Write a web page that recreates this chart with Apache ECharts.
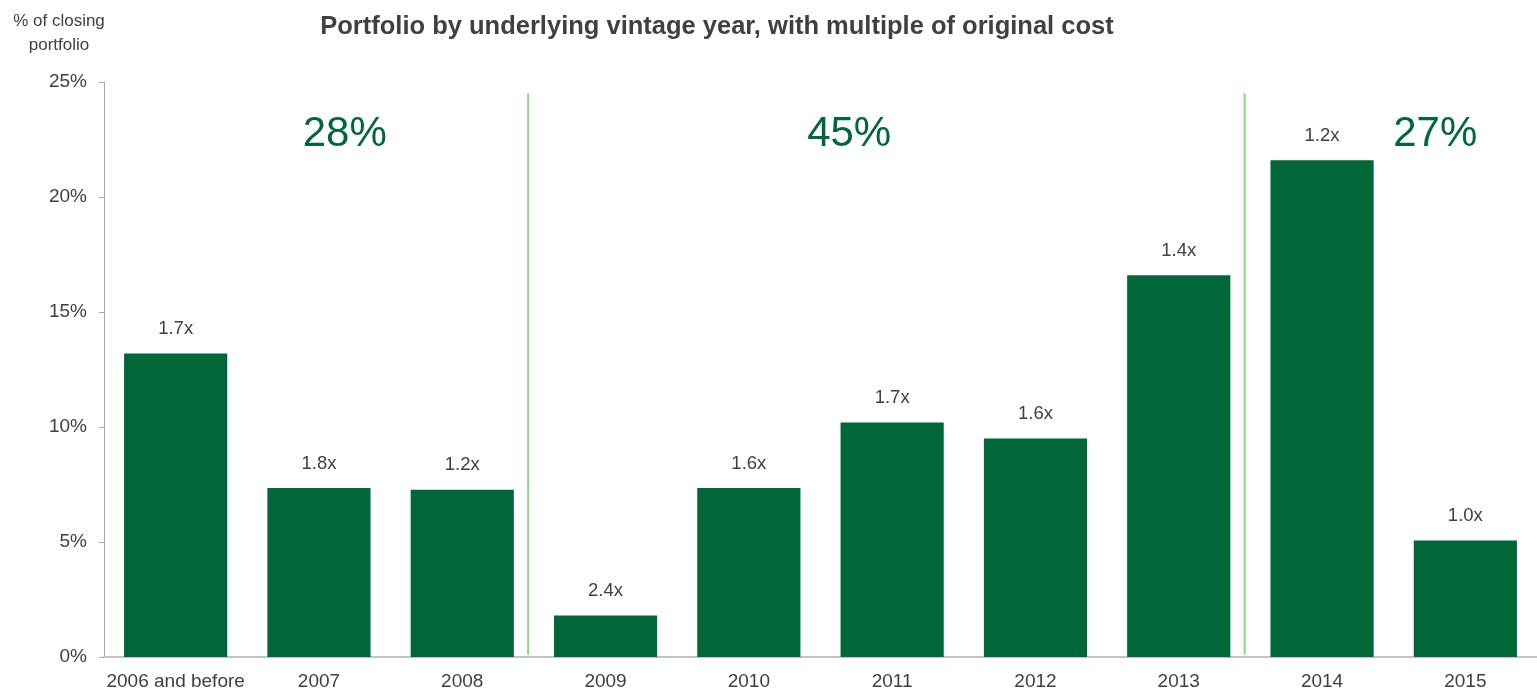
<!DOCTYPE html>
<html>
<head>
<meta charset="utf-8">
<script src="https://cdn.jsdelivr.net/npm/echarts@6/dist/echarts.min.js"></script>
<style>
html,body{margin:0;padding:0;background:#fff;}
#chart{width:1537px;height:691px;}
</style>
</head>
<body>
<div id="chart"></div>
<script>
const categories = ['2006 and before','2007','2008','2009','2010','2011','2012','2013','2014','2015'];
const shares = [13.2, 7.35, 7.27, 1.8, 7.35, 10.2, 9.5, 16.6, 21.6, 5.06];
const multiples = ['1.7x','1.8x','1.2x','2.4x','1.6x','1.7x','1.6x','1.4x','1.2x','1.0x'];
const yTicks = [0, 5, 10, 15, 20, 25];
const dividers = [2.96, 7.96];
const groupLabels = ['28%', '45%', '27%'];
const groupLabelX = [1.68, 5.2, 9.29];
const groupLabelY = 22.7;

const chart = echarts.init(document.getElementById('chart'));
const font = 'Liberation Sans, Arial, sans-serif';
const grey = '#404040';
const green = '#006838';

const series = [{
  type: 'bar',
  data: shares,
  barWidth: '72%',
  itemStyle: {color: green},
  label: {
    show: true, position: 'top', distance: 15,
    formatter: p => multiples[p.dataIndex],
    fontFamily: font, fontSize: 18.5, color: grey
  }
}];
dividers.forEach(d => {
  series.push({
    type: 'line', xAxisIndex: 1, yAxisIndex: 0,
    data: [[d, 0.1], [d, 24.5]],
    symbol: 'none', silent: true,
    lineStyle: {color: '#92d08a', width: 2}
  });
});
series.push({
  type: 'scatter', xAxisIndex: 1, yAxisIndex: 0,
  data: groupLabels.map((t, i) => [groupLabelX[i], groupLabelY]),
  symbolSize: 1, silent: true,
  itemStyle: {opacity: 1, color: 'rgba(0,0,0,0)'},
  label: {
    show: true, position: 'inside', opacity: 1,
    formatter: p => groupLabels[p.dataIndex],
    fontFamily: font, fontSize: 42, color: green
  }
});

chart.setOption({
  animation: false,
  backgroundColor: '#fff',
  title: [{
    text: 'Portfolio by underlying vintage year, with multiple of original cost',
    left: 712, top: 9, textAlign: 'center',
    textStyle: {fontFamily: font, fontSize: 25.5, fontWeight: 'bold', color: grey}
  }, {
    text: '% of closing\nportfolio',
    left: 54, top: 4, textAlign: 'center',
    textStyle: {fontFamily: font, fontSize: 17, fontWeight: 'normal', color: grey, lineHeight: 24}
  }],
  grid: {left: 104, right: -3, top: 82, bottom: 31},
  xAxis: [{
    type: 'category', data: categories,
    axisLine: {lineStyle: {color: '#bfc5c2', width: 2}},
    axisTick: {show: false},
    axisLabel: {fontFamily: font, fontSize: 19, color: grey, margin: 15, interval: 0}
  }, {
    type: 'value', min: 0, max: 10, show: false
  }],
  yAxis: [{
    type: 'value', min: 0, max: 25, interval: 5,
    axisLine: {show: true, lineStyle: {color: '#a6aaa8', width: 1}},
    axisTick: {show: true, length: 5, lineStyle: {color: '#a6aaa8'}},
    splitLine: {show: false},
    axisLabel: {fontFamily: font, fontSize: 19, color: grey, margin: 17,
      formatter: v => yTicks.includes(v) ? v + '%' : ''}
  }],
  series: series
});
</script>
</body>
</html>
